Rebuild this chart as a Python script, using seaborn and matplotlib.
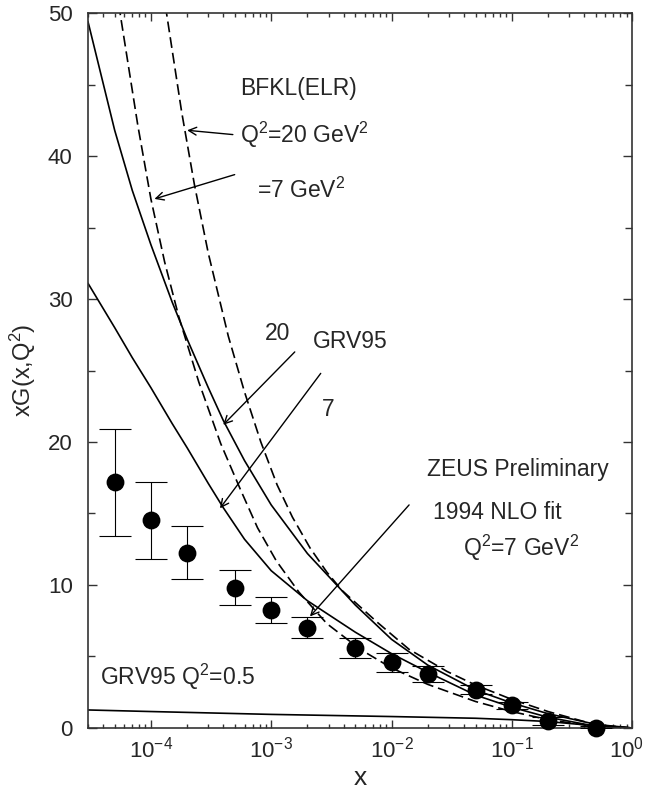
import numpy as np
import matplotlib
matplotlib.use("Agg")
import matplotlib.pyplot as plt
import seaborn as sns
from matplotlib.ticker import LogLocator, MultipleLocator, NullFormatter
from matplotlib.transforms import ScaledTranslation

# ==============================
# Data
# ==============================

# ZEUS Preliminary 1994 NLO fit, Q^2 = 7 GeV^2
pts_x = [5e-5, 1e-4, 2e-4, 5e-4, 1e-3, 2e-3, 5e-3, 1e-2, 2e-2, 5e-2, 0.1, 0.2, 0.5]
pts_y = [17.2, 14.55, 12.26, 9.8, 8.25, 7.0, 5.6, 4.64, 3.8, 2.66, 1.6, 0.49, 0.0]
pts_hi = [20.9, 17.2, 14.1, 11.05, 9.18, 7.78, 6.27, 5.22, 4.32, 2.98, 1.85, 0.8, 0.15]
pts_lo = [13.45, 11.85, 10.4, 8.62, 7.37, 6.26, 4.9, 3.94, 3.24, 2.35, 1.35, 0.2, 0.0]

# GRV95 curves (solid)
grv_x = [3e-5, 5e-5, 7e-5, 1e-4, 1.5e-4, 2e-4, 3e-4, 4e-4, 6e-4, 1e-3,
         2e-3, 5e-3, 1e-2, 2e-2, 5e-2, 0.1, 0.2, 0.5, 1.0]
grv20_y = [49.4, 41.8, 37.6, 33.8, 29.8, 27.2, 23.8, 21.5, 18.7, 15.6,
           12.2, 8.6, 6.2, 4.4, 2.65, 1.75, 1.0, 0.25, 0.0]
grv7_y = [31.1, 28.0, 25.9, 23.8, 21.3, 19.6, 17.1, 15.4, 13.2, 11.0,
          8.9, 6.7, 5.2, 3.9, 2.3, 1.45, 0.75, 0.12, 0.0]

grv05_x = [3e-5, 1e-4, 1e-3, 1e-2, 5e-2, 0.1, 0.2, 0.5, 1.0]
grv05_y = [1.26, 1.15, 0.95, 0.8, 0.68, 0.58, 0.45, 0.15, 0.0]

# BFKL(ELR) curves (dashed)
bfkl7_x = [5.4e-5, 7.8e-5, 1e-4, 1.3e-4, 1.7e-4, 2.5e-4, 3.8e-4, 5.6e-4, 7.7e-4, 1.1e-3,
           1.7e-3, 2.9e-3, 5.5e-3, 1e-2, 2e-2, 5e-2, 0.1, 0.2, 0.5, 1.0]
bfkl7_y = [50.6, 42.1, 37.0, 32.6, 28.8, 24.2, 19.9, 16.6, 14.0, 11.7,
           9.5, 7.3, 5.5, 4.2, 3.05, 1.85, 1.15, 0.58, 0.1, 0.0]
bfkl20_x = [1.32e-4, 1.8e-4, 2.3e-4, 3.0e-4, 4.4e-4, 6.0e-4, 8.2e-4, 1.12e-3, 1.5e-3, 2.1e-3,
            2.9e-3, 3.9e-3, 7.6e-3, 1.4e-2, 2.9e-2, 5e-2, 0.1, 0.2, 0.5, 1.0]
bfkl20_y = [50.5, 43.1, 38.0, 33.2, 27.4, 23.5, 20.0, 17.0, 14.75, 12.6,
            10.9, 9.6, 7.4, 5.5, 3.95, 3.0, 2.0, 1.15, 0.22, 0.0]

# ==============================
# Style
# ==============================

sns.set_style("ticks")
plt.rcParams["font.family"] = ["Liberation Sans", "DejaVu Sans"]
plt.rcParams["mathtext.fontset"] = "custom"
plt.rcParams["mathtext.rm"] = "Liberation Sans"
plt.rcParams["mathtext.it"] = "Liberation Sans:italic"
plt.rcParams["mathtext.bf"] = "Liberation Sans:bold"

fig = plt.figure(figsize=(6.47, 7.95), dpi=100)
ax = fig.add_axes([0.136, 0.0843, 0.841, 0.8993])

lw = 1.2
dash = (0, (6.5, 3))

sns.lineplot(x=grv_x, y=grv20_y, color="black", lw=lw, ax=ax)
sns.lineplot(x=grv_x, y=grv7_y, color="black", lw=lw, ax=ax)
sns.lineplot(x=grv05_x, y=grv05_y, color="black", lw=lw, ax=ax)
sns.lineplot(x=bfkl7_x, y=bfkl7_y, color="black", lw=lw, linestyle=dash, ax=ax)
sns.lineplot(x=bfkl20_x, y=bfkl20_y, color="black", lw=lw, linestyle=dash, ax=ax)

# error bars + points
yerr = [np.array(pts_y) - np.array(pts_lo), np.array(pts_hi) - np.array(pts_y)]
ax.errorbar(pts_x, pts_y, yerr=yerr, fmt="none", ecolor="black",
            elinewidth=0.8, capsize=11.5, capthick=0.8, zorder=3)
sns.scatterplot(x=pts_x, y=pts_y, color="black", s=165, edgecolor="black",
                linewidth=0, ax=ax, zorder=4, clip_on=False)

ax.set_xscale("log")
ax.set_xlim(3e-5, 1.0)
ax.set_ylim(0, 50)

ax.yaxis.set_major_locator(MultipleLocator(10))
ax.yaxis.set_minor_locator(MultipleLocator(5))
ax.xaxis.set_major_locator(LogLocator(base=10, numticks=20))
ax.xaxis.set_minor_locator(LogLocator(base=10, subs=np.arange(2, 10), numticks=20))
ax.xaxis.set_minor_formatter(NullFormatter())

ax.tick_params(axis="both", which="both", direction="in", top=True, right=True,
               color="#333333", width=1.0)
ax.tick_params(axis="y", which="major", length=6.5, pad=11, labelsize=16)
ax.tick_params(axis="y", which="minor", length=5)
ax.tick_params(axis="x", which="major", length=6, pad=6, labelsize=16)
ax.tick_params(axis="x", which="minor", length=3)

for sp in ax.spines.values():
    sp.set_linewidth(1.2)
    sp.set_color("#333333")

ax.set_xlabel("x", fontsize=19, labelpad=3)
ax.set_ylabel("xG(x,Q$^2$)", fontsize=17, labelpad=7)

# ==============================
# Annotations
# ==============================

fs = 16.5
ax.text(5.5e-4, 44.7, "BFKL(ELR)", fontsize=fs, va="center")
ax.text(5.5e-4, 41.5, "Q$^2$=20 GeV$^2$", fontsize=fs, va="center")
ax.text(7.6e-4, 37.6, "=7 GeV$^2$", fontsize=fs, va="center")
ax.text(8.9e-4, 27.6, "20", fontsize=fs, va="center")
ax.text(2.22e-3, 27.0, "GRV95", fontsize=fs, va="center")
ax.text(2.64e-3, 22.3, "7", fontsize=fs, va="center")
ax.text(1.96e-2, 18.1, "ZEUS Preliminary", fontsize=fs, va="center")
ax.text(2.22e-2, 15.1, "1994 NLO fit", fontsize=fs, va="center")
ax.text(3.94e-2, 12.57, "Q$^2$=7 GeV$^2$", fontsize=fs, va="center")
ax.text(3.77e-5, 3.6, "GRV95 Q$^2$=0.5", fontsize=fs, va="center")

arrow = dict(arrowstyle="->", lw=1.0, color="black", shrinkA=0, shrinkB=0,
             mutation_scale=14)
ax.annotate("", xy=(2.0e-4, 41.8), xytext=(4.8e-4, 41.5), arrowprops=arrow)
ax.annotate("", xy=(1.07e-4, 37.0), xytext=(4.97e-4, 38.7), arrowprops=arrow)
ax.annotate("", xy=(3.99e-4, 21.2), xytext=(1.57e-3, 26.3), arrowprops=arrow)
ax.annotate("", xy=(3.75e-4, 15.36), xytext=(2.58e-3, 24.8), arrowprops=arrow)
ax.annotate("", xy=(2.1e-3, 7.8), xytext=(1.4e-2, 15.6), arrowprops=arrow)

# nudge the 10^0 label so it stays inside the figure
fig.canvas.draw()
for tick in ax.xaxis.get_major_ticks():
    if abs(tick.get_loc() - 1.0) < 1e-9:
        lbl = tick.label1
        lbl.set_transform(lbl.get_transform()
                          + ScaledTranslation(-4 / 72, 0, fig.dpi_scale_trans))

plt.savefig("out.png", dpi=100)
plt.close()
